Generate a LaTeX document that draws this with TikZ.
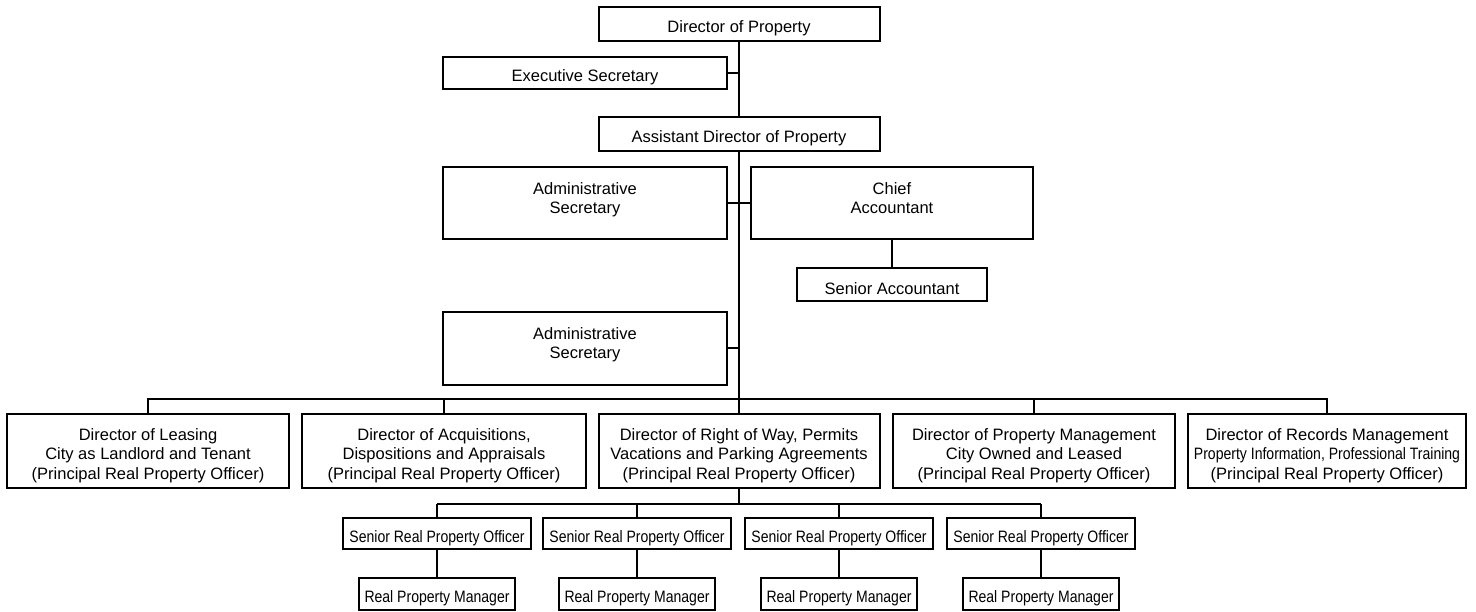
\documentclass[tikz,border=0pt]{standalone}
\usepackage{fontspec}
\setmainfont{Liberation Sans}
\newfontfamily\narrowfont[FakeStretch=0.85]{Liberation Sans}
\usepackage{tikz}

\newcommand{\tallstrut}{\rule{0pt}{21pt}}

\tikzset{
  box/.style={draw, line width=2pt, inner sep=0pt, align=center,
    font=\fontsize{16.5}{19.5}\selectfont,
    execute at begin node=\tallstrut},
  smallbox/.style={box, font=\narrowfont\fontsize{16.5}{19.5}\selectfont},
  link/.style={line width=2pt}
}

\begin{document}
\begin{tikzpicture}[x=1pt, y=-1pt]

  % Fix the page size
  \useasboundingbox (0,0) rectangle (1476,611);

  % Draw the top of the chart
  \node[box, minimum width=281pt, minimum height=34pt] (dirprop) at (739,24) {Director of Property};
  \node[box, minimum width=284pt, minimum height=32pt] (execsec) at (585,73) {Executive Secretary};
  \node[box, minimum width=281pt, minimum height=34pt] (asstdir) at (739,134) {Assistant Director of Property};

  % Draw the staff boxes
  \node[box, minimum width=284pt, minimum height=72pt] (adminA) at (585,203) {\tallstrut Administrative\\Secretary\\\mbox{}};
  \node[box, minimum width=282pt, minimum height=72pt] (chief) at (892,203) {\tallstrut Chief\\Accountant\\\mbox{}};
  \node[box, minimum width=190pt, minimum height=33pt] (senacct) at (892,284.5) {Senior Accountant};
  \node[box, minimum width=284pt, minimum height=73pt] (adminB) at (585,348) {\tallstrut Administrative\\Secretary\\\mbox{}};

  % Draw the row of directors
  \node[box, minimum width=282pt, minimum height=74pt] (leasing) at (148,451)
    {\tallstrut Director of Leasing\\City as Landlord and Tenant\\(Principal Real Property Officer)};
  \node[box, minimum width=284pt, minimum height=74pt] (acquis) at (444,451)
    {\tallstrut Director of Acquisitions,\\Dispositions and Appraisals\\(Principal Real Property Officer)};
  \node[box, minimum width=281pt, minimum height=74pt] (rightway) at (739,451)
    {\tallstrut Director of Right of Way, Permits\\Vacations and Parking Agreements\\(Principal Real Property Officer)};
  \node[box, minimum width=282pt, minimum height=74pt] (propman) at (1034,451)
    {\tallstrut Director of Property Management\\City Owned and Leased\\(Principal Real Property Officer)};
  \node[box, minimum width=278pt, minimum height=74pt] (records) at (1327,451)
    {\tallstrut Director of Records Management\\{\narrowfont Property Information, Professional Training}\\(Principal Real Property Officer)};

  % Bus lines
  \coordinate (bus) at (739,399);
  \coordinate (subbus) at (739,504);

  % Draw the main line
  \draw[link] (dirprop.south) -- (asstdir.north);
  \draw[link] (execsec.east) -- (execsec.east -| dirprop.south);
  \draw[link] (asstdir.south) -- (rightway.north);
  \draw[link] (adminA.east) -- (chief.west);
  \draw[link] (chief.south) -- (senacct.north);
  \draw[link] (adminB.east) -- (adminB.east -| asstdir.south);

  % Draw the bus to the directors
  \draw[link] (leasing.north) |- (bus) -| (records.north);
  \draw[link] (acquis.north) -- (acquis.north |- bus);
  \draw[link] (propman.north) -- (propman.north |- bus);
  \draw[link] (rightway.south) -- (subbus);

  % Draw the officers and managers
  \foreach \i/\x in {1/437,2/637,3/839,4/1041} {
    \node[smallbox, minimum width=188pt, minimum height=31pt] (officer\i) at (\x,533.5) {Senior Real Property Officer};
    \node[smallbox, minimum width=156pt, minimum height=32pt] (manager\i) at (\x,594) {Real Property Manager};
    \draw[link] (officer\i.south) -- (manager\i.north);
    \draw[link] (officer\i.north) -- (officer\i.north |- subbus);
  }
  \draw[link] (officer1.north |- subbus) -- (officer4.north |- subbus);

\end{tikzpicture}
\end{document}
